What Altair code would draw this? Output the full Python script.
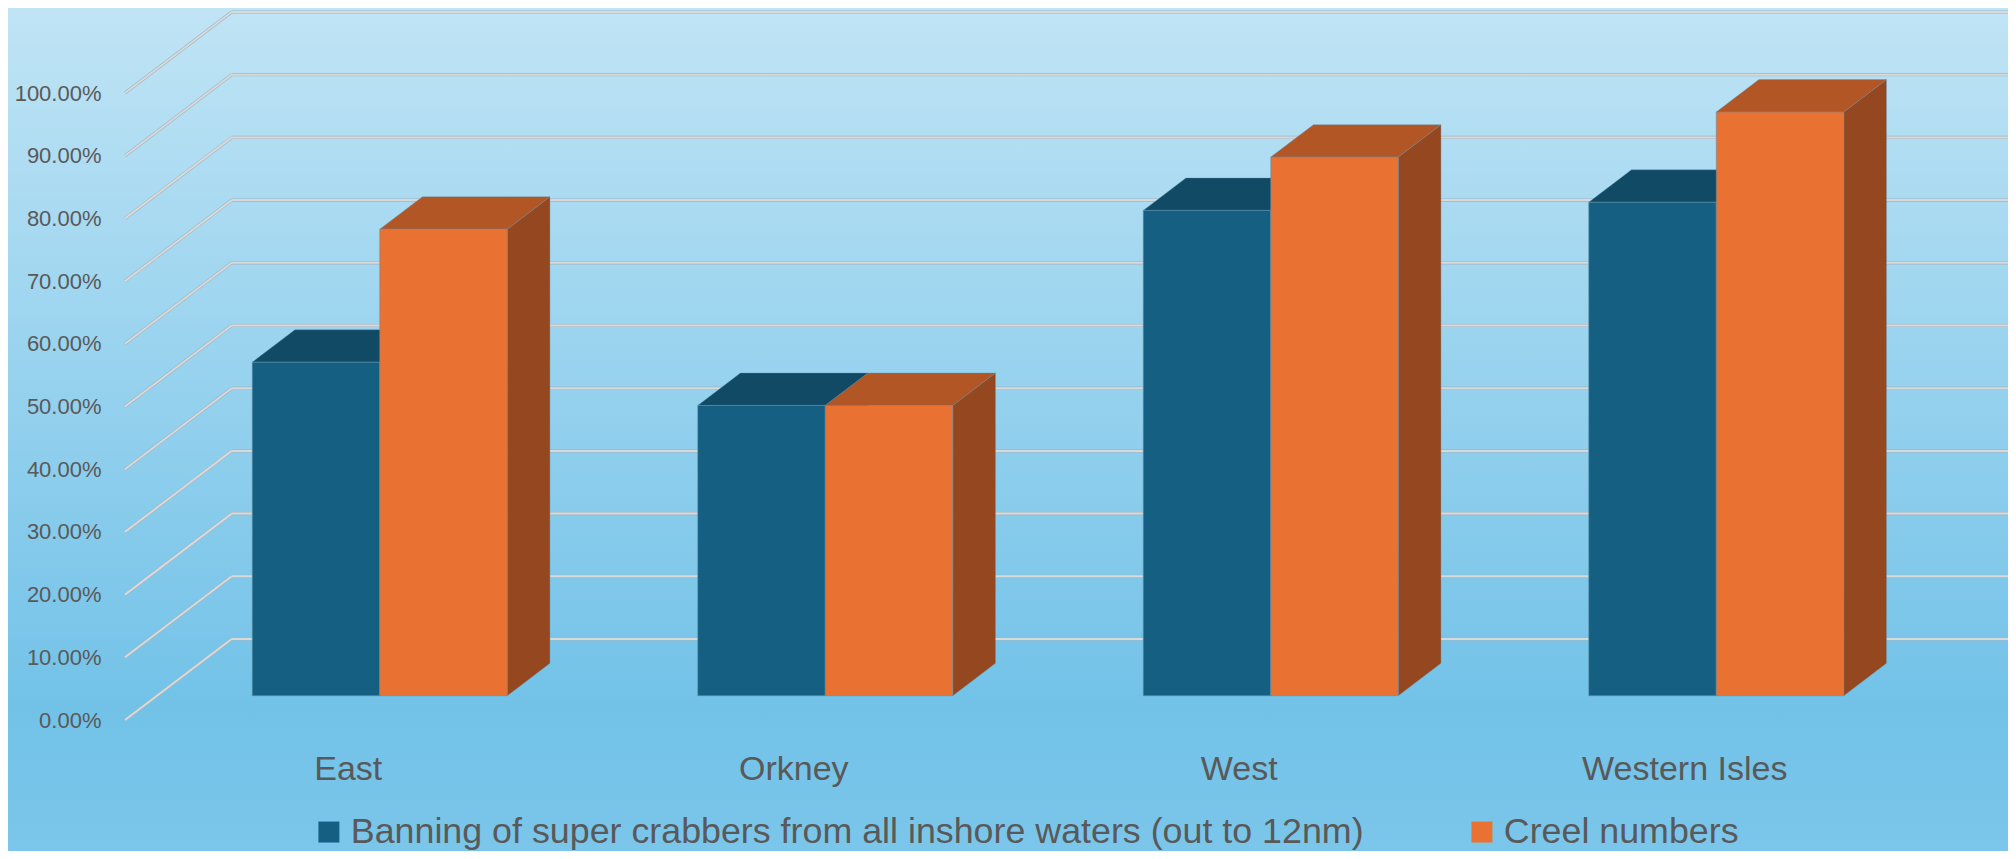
import json
import altair as alt
import pandas as pd

# ---------------- data ----------------
categories = ["East", "Orkney", "West", "Western Isles"]
series_names = [
    "Banning of super crabbers from all inshore waters (out to 12nm)",
    "Creel numbers",
]
banning = [53.2, 46.3, 77.4, 78.7]
creel = [74.4, 46.3, 85.9, 93.1]
y_ticks = [0, 10, 20, 30, 40, 50, 60, 70, 80, 90, 100]

# ---------------- layout / style ----------------
PX_X = 445.5          # px per category band
PX_Y = 6.27           # px per percentage point
W, H = 1883, 712
PAD_L, PAD_B = 117, 131
DX = 106.7 / PX_X     # full depth of the 3D box, in x units
DY = 81.0 / PX_Y      # full depth of the 3D box, in y units
GAP = 0.2138
BAR_W = 0.5 - GAP
A, B = 0.3, 0.7       # front / back depth of bars

BLUE, BLUE_TOP, BLUE_SIDE = "#156082", "#104A64", "#0E3E55"
ORANGE, ORANGE_TOP, ORANGE_SIDE = "#E97132", "#B35626", "#954720"
TEXT = "#595959"
FONT = "Liberation Sans"
n = len(categories)

x_scale = alt.Scale(domain=[0, W / PX_X], nice=False, zero=False)
y_scale = alt.Scale(domain=[0, H / PX_Y], nice=False, zero=False)

label_expr = json.dumps(categories) + "[floor(datum.value)]"
x_axis = alt.Axis(
    values=[i + 0.5 for i in range(n)], labelExpr=label_expr, title=None,
    domain=False, grid=False, ticks=False, tickSize=0, zindex=2,
    labelFontSize=34, labelColor=TEXT, labelFont=FONT, labelLimit=1000,
    labelPadding=59, labelBaseline="alphabetic",
    labelFlush=False, labelOverlap=False, labelBound=False)
y_axis = alt.Axis(
    values=y_ticks, labelExpr="format(datum.value/100, '.2%')", title=None,
    domain=False, grid=False, ticks=False, tickSize=0, zindex=2,
    labelFontSize=22, labelColor=TEXT, labelFont=FONT, labelLimit=1000,
    labelPadding=24, labelBaseline="middle",
    labelFlush=False, labelOverlap=False, labelBound=False)

# ---------------- geometry tables ----------------
fronts, tops, sides = [], [], []
for i, cat in enumerate(categories):
    for s, vals in enumerate([banning, creel]):
        v = vals[i]
        x0 = i + GAP + s * BAR_W
        x1 = x0 + BAR_W
        fid = f"{cat}-{s}"
        fronts.append(dict(series=series_names[s], category=cat,
                           x=x0 + A * DX, x2=x1 + A * DX, y=A * DY, y2=v + A * DY))
        tops += [
            dict(face=fid, s=s, x=x0 + A * DX, lo=v + A * DY, hi=v + A * DY),
            dict(face=fid, s=s, x=x0 + B * DX, lo=v + A * DY, hi=v + B * DY),
            dict(face=fid, s=s, x=x1 + A * DX, lo=v + A * DY, hi=v + B * DY),
            dict(face=fid, s=s, x=x1 + B * DX, lo=v + B * DY, hi=v + B * DY),
        ]
        sides += [
            dict(face=fid, s=s, x=x1 + A * DX, lo=A * DY, hi=v + A * DY),
            dict(face=fid, s=s, x=x1 + B * DX, lo=B * DY, hi=v + B * DY),
        ]
df_front = pd.DataFrame(fronts)
df_top = pd.DataFrame(tops)
df_side = pd.DataFrame(sides)

grid = []
for t in y_ticks:
    grid.append(dict(x=0, x2=DX, y=t, y2=t + DY))
    grid.append(dict(x=DX, x2=n + DX, y=t + DY, y2=t + DY))
df_grid = pd.DataFrame(grid)

# ---------------- layers ----------------
gradient = alt.LinearGradient(
    gradient="linear",
    stops=[alt.GradientStop(color="#C0E4F5", offset=0),
           alt.GradientStop(color="#72C2E8", offset=0.83),
           alt.GradientStop(color="#7BC6EA", offset=1)],
    x1=0, x2=0, y1=0, y2=1,
)
bg = alt.Chart(alt.Data(values=[{"a": 1}])).mark_rect(color=gradient).encode(
    x=alt.value(-PAD_L), x2=alt.value(W), y=alt.value(0), y2=alt.value(H + PAD_B)
)

grid_shadow = alt.Chart(df_grid).mark_rule(color="#9DB6C4", strokeWidth=3.2).encode(
    x=alt.X("x:Q", scale=x_scale, axis=x_axis), x2="x2:Q",
    y=alt.Y("y:Q", scale=y_scale, axis=y_axis), y2="y2:Q",
)
grid_line = alt.Chart(df_grid).mark_rule(color="#D9D9D9", strokeWidth=2).encode(
    x=alt.X("x:Q", scale=x_scale, axis=x_axis), x2="x2:Q",
    y=alt.Y("y:Q", scale=y_scale, axis=y_axis), y2="y2:Q",
)


def face_layer(df, s, color):
    return alt.Chart(df[df.s == s]).mark_area(
        color=color, interpolate="linear", opacity=1, orient="vertical",
        stroke="#5E8FA8", strokeWidth=0.6, strokeOpacity=0.6,
    ).encode(
        x=alt.X("x:Q", scale=x_scale, axis=x_axis),
        y=alt.Y("hi:Q", scale=y_scale, axis=y_axis, stack=None),
        y2="lo:Q",
        detail="face:N",
    )


side_blue = face_layer(df_side, 0, BLUE_SIDE)
side_orange = face_layer(df_side, 1, ORANGE_SIDE)
top_blue = face_layer(df_top, 0, BLUE_TOP)
top_orange = face_layer(df_top, 1, ORANGE_TOP)

front = alt.Chart(df_front).mark_rect(
    stroke="#5E8FA8", strokeWidth=0.8, strokeOpacity=0.7
).encode(
    x=alt.X("x:Q", scale=x_scale, axis=x_axis),
    x2="x2:Q",
    y=alt.Y("y:Q", scale=y_scale, axis=y_axis),
    y2="y2:Q",
    color=alt.Color("series:N",
                    scale=alt.Scale(domain=series_names, range=[BLUE, ORANGE]),
                    legend=alt.Legend(
                        orient="none", legendX=186, legendY=806,
                        direction="horizontal", title=None,
                        symbolType="square", symbolSize=441, symbolStrokeWidth=0,
                        labelFontSize=35.8, labelColor=TEXT, labelFont=FONT,
                        labelLimit=2000, labelOffset=4, columnPadding=100,
                        padding=0, zindex=2)),
)

chart = alt.layer(
    bg, grid_shadow, grid_line, side_blue, side_orange, top_blue, top_orange, front
).properties(
    width=W, height=H,
    padding={"left": PAD_L, "top": 0, "right": 0, "bottom": PAD_B},
    autosize=alt.AutoSizeParams(type="none"),
    background="#9BD3EE",
).configure_view(stroke=None)

chart.save("out.html", embed_options={"renderer": "svg", "actions": False})
